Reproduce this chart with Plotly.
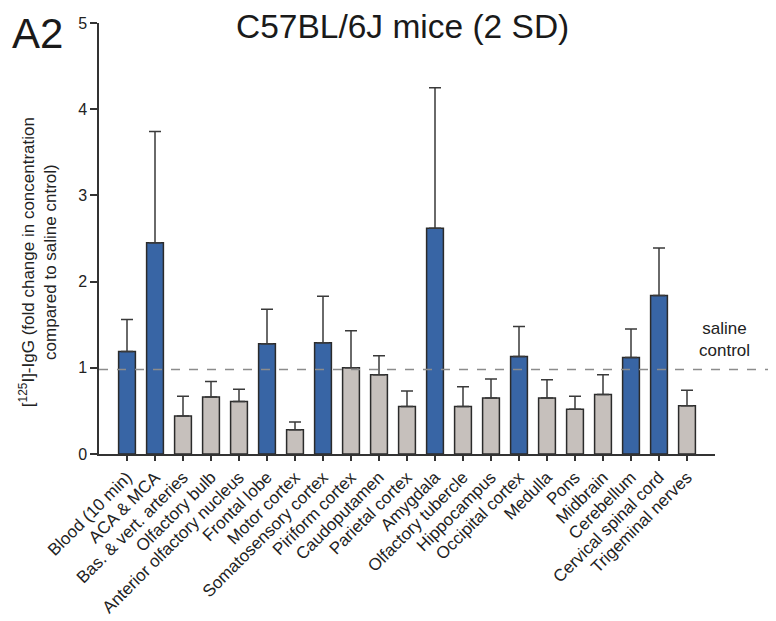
import plotly.graph_objects as go

categories = ["Blood (10 min)", "ACA & MCA", "Bas. & vert. arteries", "Olfactory bulb",
              "Anterior olfactory nucleus", "Frontal lobe", "Motor cortex",
              "Somatosensory cortex", "Piriform cortex", "Caudoputamen", "Parietal cortex",
              "Amygdala", "Olfactory tubercle", "Hippocampus", "Occipital cortex", "Medulla",
              "Pons", "Midbrain", "Cerebellum", "Cervical spinal cord", "Trigeminal nerves"]
means = [1.19, 2.45, 0.44, 0.66, 0.61, 1.28, 0.28, 1.29, 1.00, 0.92, 0.55,
         2.62, 0.55, 0.65, 1.13, 0.65, 0.52, 0.69, 1.12, 1.84, 0.56]
upper = [1.56, 3.74, 0.67, 0.84, 0.75, 1.68, 0.37, 1.83, 1.43, 1.14, 0.73,
         4.25, 0.78, 0.87, 1.48, 0.86, 0.67, 0.92, 1.45, 2.39, 0.74]
elevated = [True, True, False, False, False, True, False, True, False, False, False,
            True, False, False, True, False, False, False, True, True, False]
saline_level = 0.98

BLUE = "#3865a5"
GRAY = "#c6c0bc"
FONT = "Liberation Sans, Arial, sans-serif"

err_plus = [u - m for u, m in zip(upper, means)]
colors = [BLUE if e else GRAY for e in elevated]

fig = go.Figure()
fig.add_trace(go.Bar(
    x=list(range(len(categories))), y=means,
    marker=dict(color=colors, line=dict(color="#2b2b2b", width=1.5)),
    width=0.6,
    error_y=dict(type="data", symmetric=False, array=err_plus,
                 arrayminus=[0] * len(means), color="#3a3a3a", thickness=1.5, width=6),
    showlegend=False,
))

fig.add_shape(type="line", xref="paper", yref="y", x0=0, x1=1.1,
              y0=saline_level, y1=saline_level,
              line=dict(color="#8c8c8c", width=1.5, dash="dash"), layer="above")

fig.update_layout(
    width=768, height=613,
    margin=dict(l=91, r=61, t=15, b=167),
    paper_bgcolor="white", plot_bgcolor="white",
    font=dict(family=FONT, color="#222222", size=15),
    xaxis=dict(range=[-1, 21], tickmode="array", tickvals=list(range(len(categories))),
               ticktext=categories, tickangle=-45, showline=True, linecolor="#333333",
               linewidth=1.5, ticks="outside", ticklen=5, tickcolor="#333333",
               tickwidth=1.5, showgrid=False, zeroline=False, automargin=False,
               tickfont=dict(size=17, family=FONT, color="#222222")),
    yaxis=dict(range=[0, 5], tickvals=[0, 1, 2, 3, 4, 5], showline=True,
               linecolor="#333333", linewidth=1.5, ticks="outside", ticklen=7,
               tickcolor="#333333", tickwidth=1.5, showgrid=False, zeroline=False,
               automargin=False,
               tickfont=dict(size=16, family=FONT, color="#222222")),
    annotations=[
        dict(text="C57BL/6J mice (2 SD)", xref="paper", yref="paper", x=0.492, y=0.9914,
             xanchor="center", yanchor="middle", showarrow=False,
             font=dict(size=33.5, family=FONT, color="#1a1a1a")),
        dict(text="A2", xref="paper", yref="paper", x=-0.1, y=0.975,
             xanchor="center", yanchor="middle", showarrow=False,
             font=dict(size=42, family=FONT, color="#1a1a1a")),
        dict(text="[<sup>125</sup>I]-IgG (fold change in concentration<br>compared to saline cntrol)",
             xref="paper", yref="paper", x=-0.1, y=0.446, textangle=-90,
             xanchor="center", yanchor="middle", showarrow=False,
             font=dict(size=17, family=FONT, color="#222222")),
        dict(text="saline<br>control", xref="paper", yref="paper", x=1.016, y=0.265,
             xanchor="center", yanchor="middle", showarrow=False,
             font=dict(size=17, family=FONT, color="#222222")),
    ],
)

fig.write_html("out.html")
